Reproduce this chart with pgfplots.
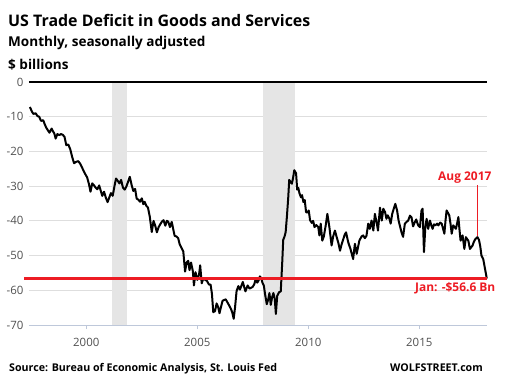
\documentclass[border=0pt]{standalone}
\usepackage{pgfplots}
\pgfplotsset{compat=1.18}
\usepackage{fontspec}
\setmainfont{Open Sans}
\definecolor{wred}{RGB}{237,28,36}
\definecolor{recg}{RGB}{229,229,229}
\definecolor{gridg}{RGB}{222,222,222}
\definecolor{axblue}{RGB}{190,200,218}
\definecolor{tickc}{RGB}{80,80,80}
\begin{document}
\begin{tikzpicture}
\useasboundingbox (0,0) rectangle (510bp,381bp);
\begin{axis}[
  at={(29bp,56bp)}, anchor=south west,
  scale only axis, width=458bp, height=243bp,
  xmin=1997.42, xmax=2018.05, ymin=-70, ymax=0,
  clip=false,
  axis lines*=left,
  y axis line style={draw=none},
  x axis line style={draw=axblue, line width=0.8pt},
  xtick={2000,2005,2010,2015},
  ytick={-70,-60,-50,-40,-30,-20,-10,0},
  xtick align=outside,
  major tick length=4bp,
  xtick style={draw=axblue, line width=0.8pt},
  ytick style={draw=none},
  ymajorgrids, grid style={draw=gridg, line width=0.8pt},
  /pgf/number format/assume math mode=true,
  /pgf/number format/.cd, 1000 sep={}, 
  /pgfplots/.cd,
  tick label style={font=\fontsize{11.5}{13}\selectfont, text=tickc},
  yticklabel style={xshift=-2bp},
  xticklabel style={yshift=-6bp},
]
\addplot[draw=none, fill=recg] coordinates {(2001.17,-70) (2001.17,0) (2001.85,0) (2001.85,-70)} -- cycle;
\addplot[draw=none, fill=recg] coordinates {(2007.95,-70) (2007.95,0) (2009.40,0) (2009.40,-70)} -- cycle;
\addplot[black, line width=2bp] coordinates {(1997.42,0) (2018.05,0)};
\addplot[black, line width=2bp, line join=round] coordinates {
(1997.46,-7.2) (1997.55,-8.5) (1997.62,-9.2) (1997.72,-9.0) (1997.80,-9.8) (1997.88,-10.0) (1997.96,-11.2)
(1998.06,-11.0) (1998.13,-12.2) (1998.20,-13.2) (1998.28,-14.0) (1998.34,-14.6) (1998.44,-13.4) (1998.50,-14.2)
(1998.56,-14.8) (1998.62,-16.3) (1998.70,-15.0) (1998.78,-15.3) (1998.86,-15.0) (1998.94,-15.2) (1999.02,-15.8)
(1999.10,-18.2) (1999.19,-18.0) (1999.28,-19.4) (1999.36,-21.5) (1999.45,-23.4) (1999.54,-23.0) (1999.64,-22.8)
(1999.72,-23.5) (1999.80,-24.5) (1999.88,-25.6) (1999.96,-26.6) (2000.04,-27.5) (2000.12,-29.4) (2000.19,-31.6)
(2000.27,-29.2) (2000.35,-29.8) (2000.43,-30.5) (2000.50,-30.9) (2000.58,-29.8) (2000.66,-31.5) (2000.72,-32.8)
(2000.80,-31.6) (2000.88,-33.3) (2000.96,-34.6) (2001.04,-33.2) (2001.11,-32.0) (2001.19,-32.8) (2001.27,-30.0)
(2001.34,-27.8) (2001.42,-28.5) (2001.49,-29.2) (2001.57,-28.2) (2001.65,-30.4) (2001.73,-31.0) (2001.80,-30.2)
(2001.88,-28.8) (2001.96,-27.3) (2002.04,-29.6) (2002.12,-31.4) (2002.20,-30.8) (2002.27,-33.6) (2002.35,-33.9)
(2002.42,-34.5) (2002.50,-33.5) (2002.57,-35.2) (2002.63,-34.5) (2002.70,-35.6) (2002.78,-36.2) (2002.86,-38.8)
(2002.95,-43.2) (2003.03,-40.0) (2003.11,-41.5) (2003.18,-43.3) (2003.26,-41.8) (2003.33,-41.0) (2003.41,-40.2)
(2003.48,-39.8) (2003.56,-41.4) (2003.63,-40.0) (2003.69,-40.2) (2003.77,-41.8) (2003.85,-40.3) (2003.92,-42.5)
(2003.98,-44.3) (2004.06,-44.5) (2004.14,-45.0) (2004.21,-46.8) (2004.29,-47.8) (2004.37,-48.8) (2004.45,-54.6)
(2004.52,-52.0) (2004.59,-51.5) (2004.65,-54.2) (2004.72,-52.0) (2004.80,-54.5) (2004.85,-58.6) (2004.92,-54.8)
(2005.00,-57.0) (2005.08,-55.5) (2005.13,-52.8) (2005.20,-58.0) (2005.28,-56.5) (2005.36,-57.0) (2005.44,-57.3)
(2005.52,-58.3) (2005.60,-58.4) (2005.66,-61.0) (2005.72,-66.3) (2005.80,-66.0) (2005.87,-63.8) (2005.94,-64.8)
(2006.00,-66.6) (2006.07,-64.8) (2006.14,-63.0) (2006.21,-62.8) (2006.28,-62.6) (2006.36,-63.5) (2006.43,-64.3)
(2006.52,-65.4) (2006.58,-66.5) (2006.64,-68.2) (2006.70,-65.0) (2006.77,-60.2) (2006.85,-58.8) (2006.92,-59.8)
(2007.00,-58.5) (2007.05,-57.6) (2007.12,-59.2) (2007.17,-60.3) (2007.27,-58.6) (2007.35,-59.5) (2007.42,-59.3)
(2007.50,-59.0) (2007.57,-58.2) (2007.63,-56.7) (2007.70,-57.8) (2007.76,-57.2) (2007.82,-56.0) (2007.88,-56.5)
(2007.94,-57.9) (2008.00,-58.7) (2008.05,-61.0) (2008.13,-64.0) (2008.20,-62.5) (2008.25,-60.8) (2008.31,-64.2)
(2008.37,-62.0) (2008.43,-60.8) (2008.49,-62.5) (2008.54,-66.8) (2008.60,-61.6) (2008.68,-60.6) (2008.76,-60.3)
(2008.83,-51.5) (2008.87,-45.5) (2008.93,-44.5) (2008.98,-43.3) (2009.04,-38.5) (2009.10,-33.0) (2009.14,-28.2)
(2009.20,-28.8) (2009.26,-29.3) (2009.31,-27.8) (2009.37,-25.4) (2009.45,-26.3) (2009.50,-31.0) (2009.55,-30.5)
(2009.60,-32.0) (2009.67,-33.2) (2009.72,-32.6) (2009.78,-34.6) (2009.84,-34.0) (2009.90,-37.5) (2009.96,-37.6)
(2010.02,-37.0) (2010.08,-39.8) (2010.16,-40.6) (2010.22,-40.0) (2010.28,-41.8) (2010.36,-41.2) (2010.45,-41.8)
(2010.50,-44.2) (2010.56,-40.8) (2010.63,-45.7) (2010.70,-44.5) (2010.78,-41.5) (2010.86,-38.0) (2010.95,-41.8)
(2011.05,-47.1) (2011.12,-44.5) (2011.20,-42.8) (2011.28,-44.7) (2011.36,-46.5) (2011.43,-48.6) (2011.50,-46.8)
(2011.58,-45.2) (2011.64,-44.0) (2011.70,-43.3) (2011.80,-46.2) (2011.90,-48.1) (2012.02,-51.0) (2012.10,-46.6)
(2012.18,-49.5) (2012.30,-45.7) (2012.40,-44.5) (2012.47,-44.2) (2012.55,-45.0) (2012.62,-44.3) (2012.70,-40.8)
(2012.77,-42.3) (2012.85,-39.9) (2012.93,-42.8) (2013.00,-38.0) (2013.08,-40.5) (2013.14,-42.8) (2013.23,-36.2)
(2013.31,-39.9) (2013.38,-36.5) (2013.46,-37.5) (2013.52,-39.4) (2013.58,-38.4) (2013.66,-39.5) (2013.71,-40.8)
(2013.78,-38.0) (2013.85,-36.5) (2013.92,-35.1) (2014.00,-37.0) (2014.07,-40.0) (2014.14,-41.8) (2014.20,-43.3)
(2014.27,-44.6) (2014.35,-40.8) (2014.43,-40.3) (2014.50,-39.9) (2014.58,-38.5) (2014.65,-39.0) (2014.72,-41.6)
(2014.79,-40.5) (2014.86,-39.6) (2014.95,-41.3) (2015.03,-41.8) (2015.10,-37.0) (2015.15,-36.5) (2015.21,-49.0)
(2015.27,-42.0) (2015.33,-39.4) (2015.40,-42.3) (2015.48,-39.9) (2015.55,-41.5) (2015.60,-42.3) (2015.66,-41.0)
(2015.72,-41.3) (2015.80,-40.8) (2015.86,-41.3) (2015.94,-40.5) (2016.01,-40.8) (2016.08,-42.5) (2016.13,-43.7)
(2016.18,-40.0) (2016.23,-37.0) (2016.30,-37.8) (2016.35,-38.4) (2016.41,-41.0) (2016.46,-43.7) (2016.53,-41.3)
(2016.59,-41.8) (2016.65,-42.3) (2016.71,-40.5) (2016.76,-38.9) (2016.81,-42.5) (2016.86,-45.7) (2016.95,-44.2)
(2017.03,-48.1) (2017.10,-44.7) (2017.16,-45.3) (2017.21,-45.7) (2017.28,-48.1) (2017.35,-47.5) (2017.40,-47.1)
(2017.46,-46.0) (2017.53,-45.2) (2017.62,-44.7) (2017.69,-45.5) (2017.75,-47.5) (2017.80,-50.0) (2017.88,-51.0)
(2017.96,-53.8) (2018.04,-56.6)
};
\addplot[wred, line width=3bp] coordinates {(1997.20,-56.6) (2018.05,-56.6)};
\addplot[wred, line width=0.6bp] coordinates {(2017.62,-29.8) (2017.62,-44.5)};
\end{axis}
\node[anchor=base west, inner sep=0pt, font=\fontsize{16}{18}\selectfont\bfseries] at (8bp,354bp) {US Trade Deficit in Goods and Services};
\node[anchor=base west, inner sep=0pt, font=\fontsize{13.6}{15}\selectfont\bfseries] at (8bp,334bp) {Monthly, seasonally adjusted};
\node[anchor=base west, inner sep=0pt, font=\fontsize{13.6}{15}\selectfont\bfseries] at (8bp,311bp) {\$ billions};
\node[anchor=base west, inner sep=0pt, text=wred, font=\fontsize{12}{14}\selectfont\bfseries] at (438bp,200bp) {Aug 2017};
\node[anchor=base west, inner sep=0pt, text=wred, font=\fontsize{12}{14}\selectfont\bfseries] at (415bp,89bp) {Jan: -\$56.6 Bn};
\node[anchor=base west, inner sep=0pt, font=\fontsize{10.7}{12}\selectfont\bfseries] at (9bp,10bp) {Source: Bureau of Economic Analysis, St. Louis Fed};
\node[anchor=base east, inner sep=0pt, font=\fontsize{10.7}{12}\selectfont\bfseries] at (483bp,10bp) {WOLFSTREET.com};
\end{tikzpicture}
\end{document}
